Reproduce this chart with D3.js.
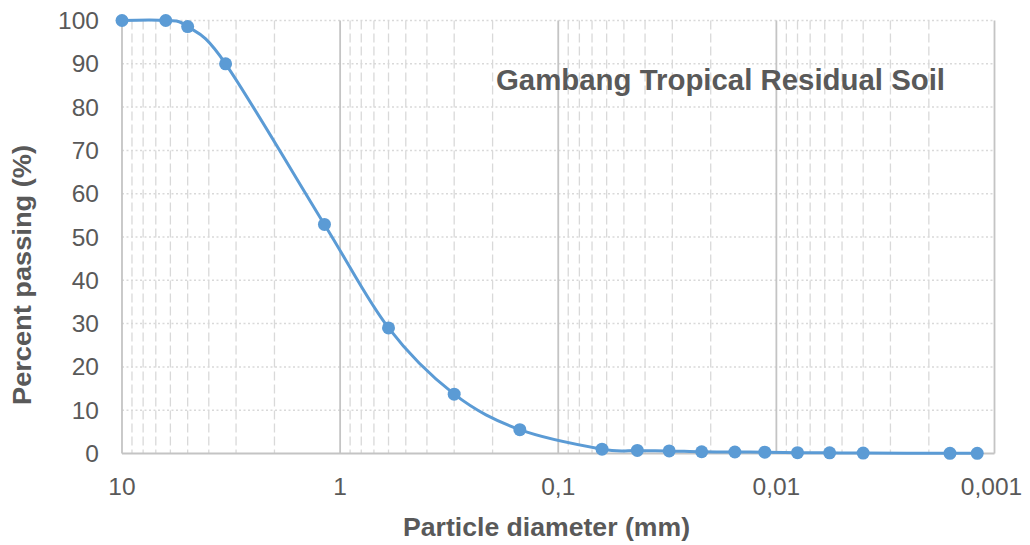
<!DOCTYPE html>
<html>
<head>
<meta charset="utf-8">
<script src="https://cdn.jsdelivr.net/npm/d3@7"></script>
<style>
  html, body { margin: 0; padding: 0; background: #ffffff; }
  svg { display: block; }
  text { font-family: "Liberation Sans", Arial, sans-serif; }
</style>
</head>
<body>
<svg id="chart" width="1030" height="545"></svg>
<script>
// ---- data ----
const diameters = [10, 6.3, 5, 3.35, 1.18, 0.6, 0.3, 0.15, 0.063, 0.0434, 0.031, 0.022, 0.0155, 0.0113, 0.008, 0.0057, 0.004, 0.0016, 0.0012];
const passing   = [100, 100, 98.6, 90, 52.9, 29, 13.7, 5.5, 1.0, 0.7, 0.6, 0.4, 0.35, 0.3, 0.2, 0.15, 0.1, 0.05, 0.05];
const xTickValues = [10, 1, 0.1, 0.01, 0.001];
const xTickLabels = ["10", "1", "0,1", "0,01", "0,001"];
const yTickValues = [0, 10, 20, 30, 40, 50, 60, 70, 80, 90, 100];
const chartTitle = "Gambang Tropical Residual Soil";
const xTitle = "Particle diameter (mm)";
const yTitle = "Percent passing (%)";

(function () {
const svg = d3.select("#chart");
const pLeft = 122, pRight = 994.5, pTop = 20.5, pBottom = 453.5;

const x = d3.scaleLog().domain([10, 0.001]).range([pLeft, pRight]);
const y = d3.scaleLinear().domain([0, 100]).range([pBottom, pTop]);

const textColor = "#595959";
const gridColor = "#d9d9d9";
const majorColor = "#c4c4c4";
const seriesColor = "#5b9bd5";

// minor vertical gridlines (2..9 times each decade)
const minorVals = [];
[0.001, 0.01, 0.1, 1].forEach(dec => {
  for (let k = 2; k <= 9; k++) minorVals.push(dec * k);
});
svg.append("g").selectAll("line").data(minorVals).join("line")
  .attr("x1", d => x(d)).attr("x2", d => x(d))
  .attr("y1", pTop).attr("y2", pBottom)
  .attr("stroke", gridColor).attr("stroke-width", 1.3)
  .attr("stroke-dasharray", "9,4");

// horizontal dotted gridlines
svg.append("g").selectAll("line").data(yTickValues.filter(v => v > 0)).join("line")
  .attr("x1", pLeft).attr("x2", pRight)
  .attr("y1", d => y(d)).attr("y2", d => y(d))
  .attr("stroke", gridColor).attr("stroke-width", 1.5)
  .attr("stroke-dasharray", "2,2.5");

// major vertical lines (decades)
svg.append("g").selectAll("line").data(xTickValues).join("line")
  .attr("x1", d => x(d)).attr("x2", d => x(d))
  .attr("y1", pTop).attr("y2", pBottom)
  .attr("stroke", majorColor).attr("stroke-width", 1.8);

// bottom axis line
svg.append("line")
  .attr("x1", pLeft).attr("x2", pRight)
  .attr("y1", pBottom).attr("y2", pBottom)
  .attr("stroke", majorColor).attr("stroke-width", 1.8);

// y tick labels
svg.append("g").selectAll("text").data(yTickValues).join("text")
  .attr("x", 99).attr("y", d => y(d))
  .attr("dy", "0.35em")
  .attr("text-anchor", "end")
  .attr("font-size", 24.5)
  .attr("fill", textColor)
  .text(d => d);

// x tick labels
svg.append("g").selectAll("text").data(xTickValues).join("text")
  .attr("x", (d, i) => x(d) - (i === xTickValues.length - 1 ? 3 : 0))
  .attr("y", 495)
  .attr("text-anchor", "middle")
  .attr("font-size", 24.5)
  .attr("fill", textColor)
  .text((d, i) => xTickLabels[i]);

// series
const pts = diameters.map((d, i) => [x(d), y(passing[i])]);
const line = d3.line().curve(d3.curveCatmullRom.alpha(0));
svg.append("path")
  .attr("d", line(pts))
  .attr("fill", "none")
  .attr("stroke", seriesColor)
  .attr("stroke-width", 3);

svg.append("g").selectAll("circle").data(pts).join("circle")
  .attr("cx", d => d[0]).attr("cy", d => d[1])
  .attr("r", 6.5)
  .attr("fill", seriesColor);

// chart title (in-plot)
svg.append("text")
  .attr("x", 496).attr("y", 90)
  .attr("font-size", 29)
  .attr("font-weight", "bold")
  .attr("fill", textColor)
  .attr("textLength", 449)
  .attr("lengthAdjust", "spacingAndGlyphs")
  .text(chartTitle);

// x axis title
svg.append("text")
  .attr("x", 403).attr("y", 536)
  .attr("font-size", 25)
  .attr("font-weight", "bold")
  .attr("fill", textColor)
  .attr("textLength", 287)
  .attr("lengthAdjust", "spacingAndGlyphs")
  .text(xTitle);

// y axis title
svg.append("text")
  .attr("transform", "translate(31,405) rotate(-90)")
  .attr("x", 0).attr("y", 0)
  .attr("font-size", 25)
  .attr("font-weight", "bold")
  .attr("fill", textColor)
  .attr("textLength", 260)
  .attr("lengthAdjust", "spacingAndGlyphs")
  .text(yTitle);
})();
</script>
</body>
</html>
